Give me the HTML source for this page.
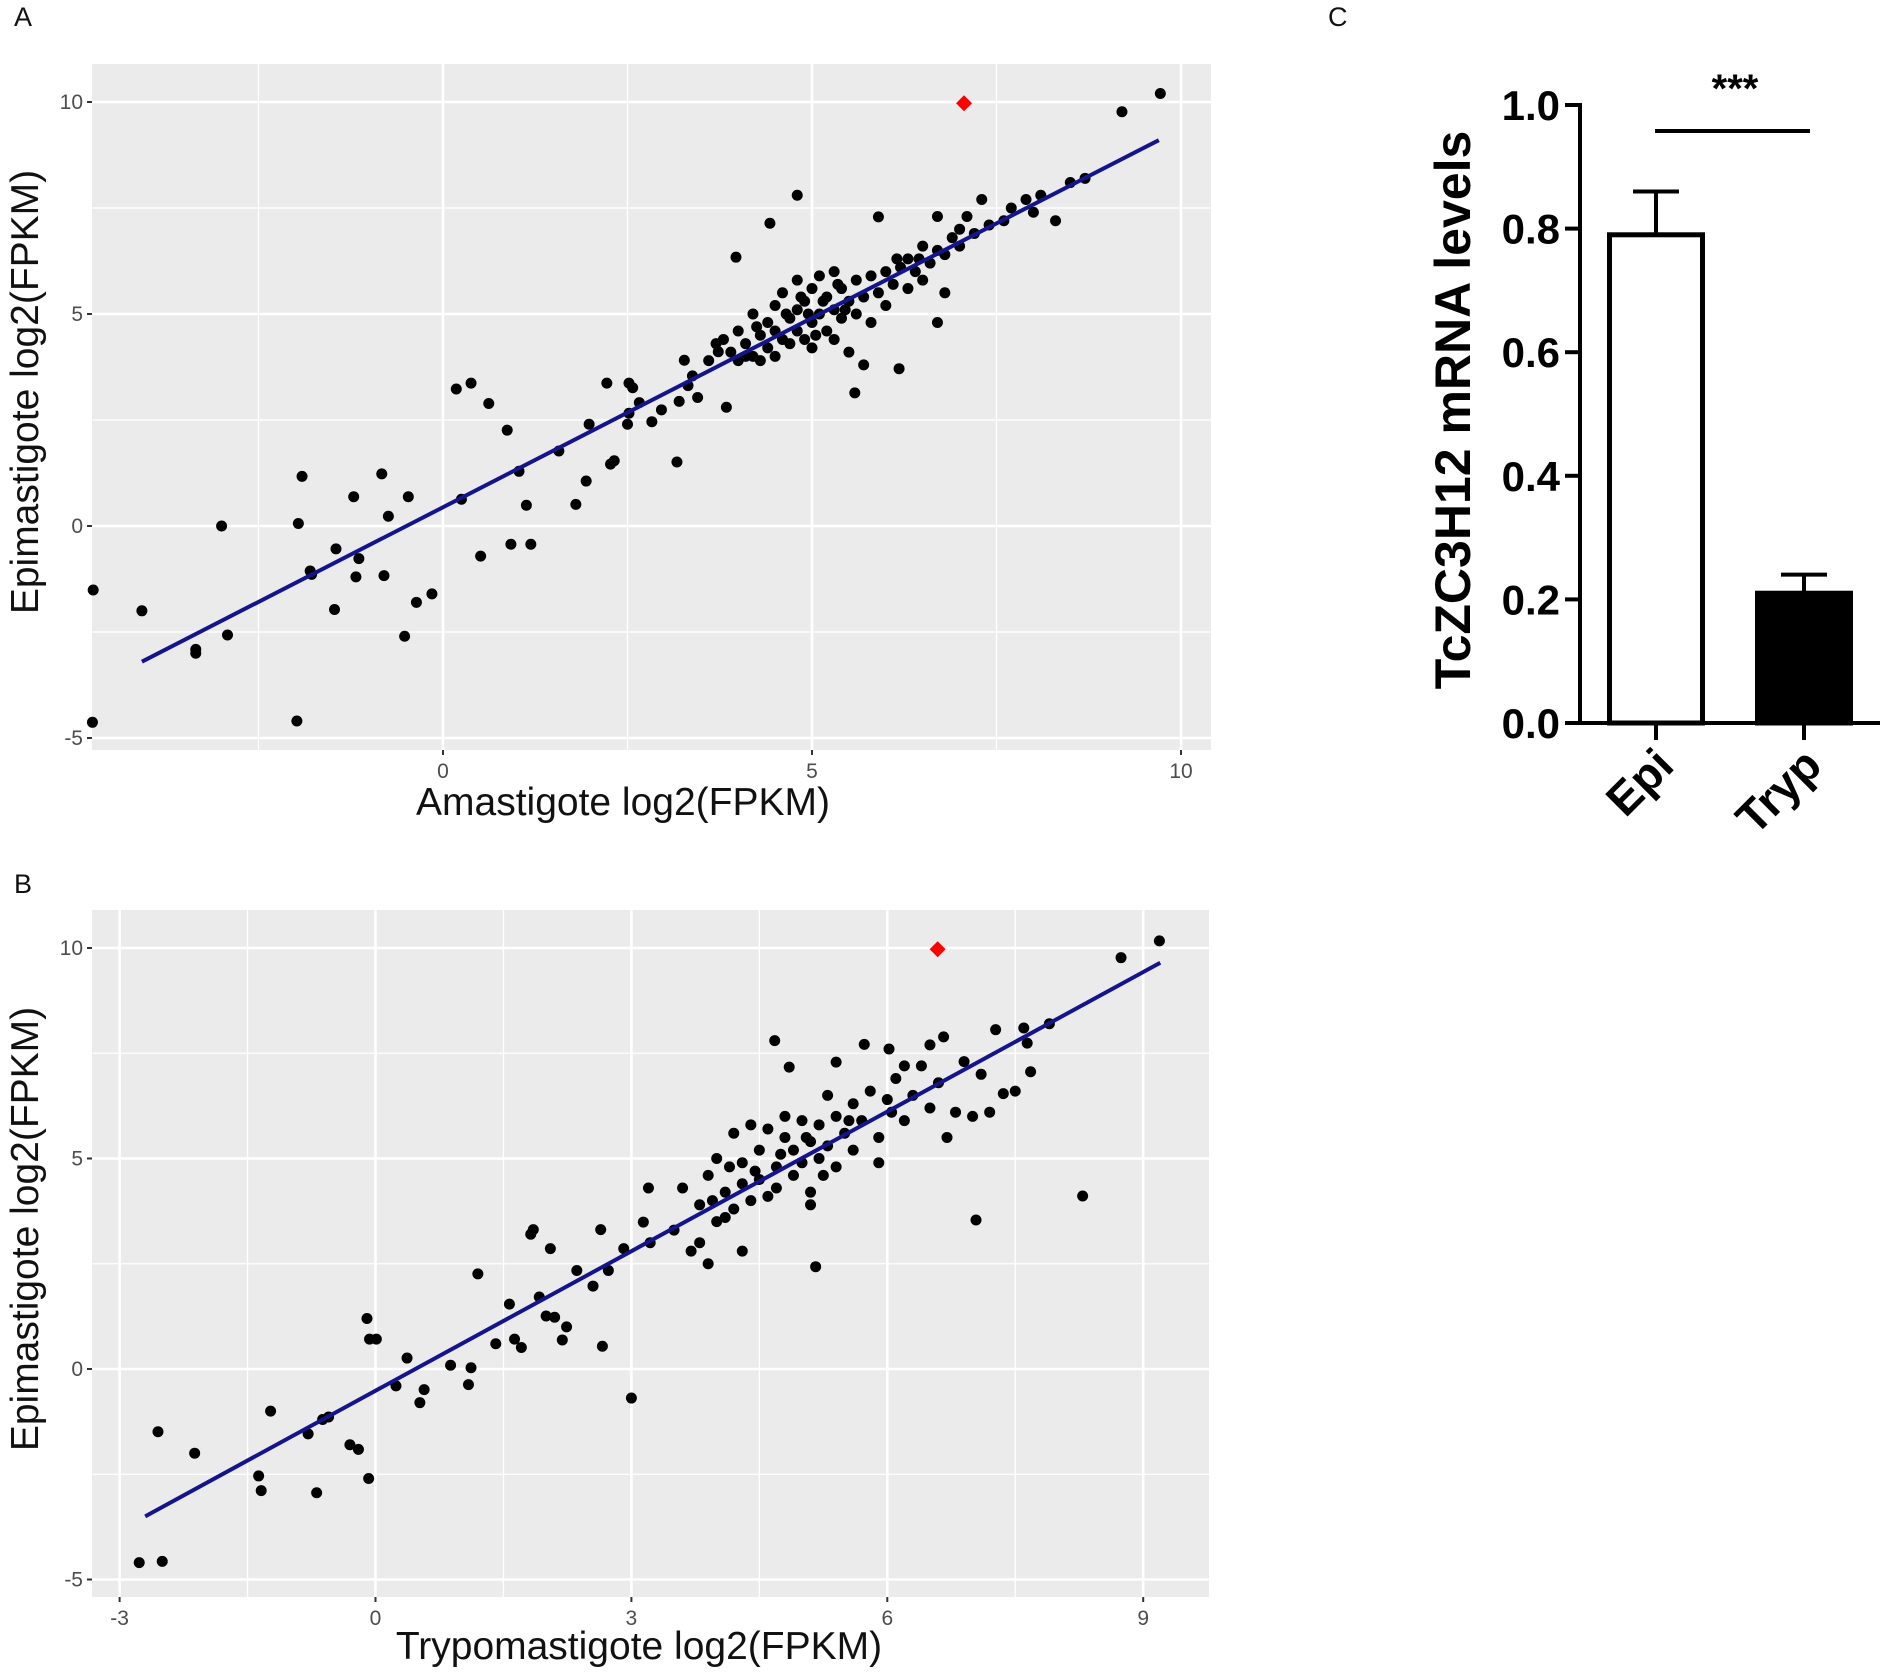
<!DOCTYPE html>
<html><head><meta charset="utf-8"><style>
body{margin:0;background:#fff;}
svg{display:block;font-family:"Liberation Sans",Arial,sans-serif;}
</style></head><body>
<svg id="fig" width="1890" height="1672" viewBox="0 0 1890 1672" xmlns="http://www.w3.org/2000/svg">
<text x="14" y="26" font-size="27" fill="#111">A</text>
<text x="14" y="893" font-size="27" fill="#111">B</text>
<text x="1328" y="26" font-size="27" fill="#111">C</text>
<g id="pa"></g>
<g id="pb"></g>
<g id="pc"></g>
</svg>
<script>
const aPoints=[[-4.74,-1.51],[-4.08,-2.0],[-4.75,-4.63],[-3.0,0],[-3.35,-2.91],[-3.35,-3.0],[-2.92,-2.57],[-1.98,-4.6],[-1.96,0.06],[-1.91,1.17],[-1.8,-1.06],[-1.78,-1.14],[-1.45,-0.54],[-1.47,-1.97],[-1.21,0.69],[-1.14,-0.77],[-1.18,-1.2],[-0.83,1.23],[-0.8,-1.17],[-0.74,0.23],[-0.47,0.69],[-0.52,-2.6],[-0.36,-1.8],[-0.15,-1.6],[0.18,3.23],[0.38,3.37],[0.25,0.63],[0.51,-0.71],[0.62,2.89],[0.87,2.26],[0.92,-0.43],[1.03,1.29],[1.13,0.49],[1.19,-0.43],[1.57,1.77],[1.8,0.51],[1.94,1.06],[1.98,2.4],[2.22,3.37],[2.27,1.46],[2.32,1.54],[2.5,2.4],[2.52,2.66],[2.52,3.37],[2.57,3.26],[2.66,2.91],[2.83,2.46],[2.96,2.74],[3.17,1.51],[3.2,2.94],[3.27,3.91],[3.32,3.31],[3.38,3.54],[3.45,3.03],[3.73,4.11],[3.84,2.8],[3.97,6.34],[4.43,7.14],[4.8,7.8],[5.9,7.29],[5.58,3.14],[6.18,3.71],[9.2,9.77],[9.72,10.2],
[3.6,3.9],[3.7,4.3],[3.9,4.1],[4.0,3.9],[4.0,4.6],[4.1,4.3],[4.2,4.0],[4.2,5.0],[4.3,4.5],[4.3,3.9],[4.4,4.8],[4.4,4.2],[4.5,4.6],[4.5,5.2],[4.5,4.0],[4.6,4.4],[4.6,5.5],[4.7,4.9],[4.7,4.3],[4.8,5.1],[4.8,4.6],[4.8,5.8],[4.9,4.4],[4.9,5.3],[5.0,4.8],[5.0,5.6],[5.0,4.2],[5.1,5.0],[5.1,5.9],[5.2,4.6],[5.2,5.4],[5.3,5.1],[5.3,4.4],[5.3,6.0],[5.4,5.6],[5.4,4.9],[5.5,5.3],[5.5,4.1],[5.6,5.8],[5.6,5.0],[5.7,3.8],[5.7,5.4],[5.8,5.9],[5.8,4.8],[5.9,5.5],[6.0,6.0],[6.0,5.2],[6.1,5.7],[6.2,6.1],[6.3,5.6],[6.3,6.3],[6.4,6.0],[6.5,6.6],[6.5,5.8],[6.6,6.2],[6.7,6.5],[6.7,4.8],[6.7,7.3],[6.8,6.4],[6.8,5.5],[6.9,6.8],[7.0,6.6],[7.0,7.0],[7.1,7.3],[7.2,6.9],[7.3,7.7],[7.4,7.1],[7.6,7.2],[7.7,7.5],[7.9,7.7],[8.0,7.4],[8.1,7.8],[8.3,7.2],[8.5,8.1],[8.7,8.2],[4.25,4.7],[4.65,5.0],[4.95,5.0],[5.15,5.3],[5.45,5.1],[5.05,4.5],[4.85,5.4],[5.35,5.7],[6.15,6.3],[6.45,6.3],[3.8,4.4],[4.1,4.0]];
const aHighlight=[[7.06,9.97]];
const aFit=[[-4.08,-3.2],[9.7,9.1]];
const aXTicks=[0,5,10];
const aYTicks=[-5,0,5,10];

const bPoints=[[-2.77,-4.6],[-2.5,-4.57],[-2.55,-1.49],[-2.12,-2.0],[-1.37,-2.54],[-1.34,-2.89],[-1.23,-1.0],[-0.79,-1.54],[-0.69,-2.94],[-0.62,-1.2],[-0.55,-1.14],[-0.3,-1.8],[-0.2,-1.91],[-0.1,1.2],[-0.08,-2.6],[-0.07,0.71],[0.01,0.71],[0.24,-0.4],[0.37,0.26],[0.52,-0.8],[0.57,-0.49],[0.88,0.09],[1.09,-0.37],[1.12,0.03],[1.2,2.26],[1.41,0.6],[1.57,1.54],[1.63,0.71],[1.71,0.51],[1.85,3.31],[1.82,3.2],[1.92,1.71],[2.0,1.26],[2.05,2.86],[2.1,1.23],[2.19,0.69],[2.24,1.0],[2.36,2.34],[2.55,1.97],[2.64,3.31],[2.66,0.54],[2.73,2.34],[2.91,2.86],[3.0,-0.69],[3.14,3.49],[3.22,3.0],[4.85,7.17],[4.68,7.8],[5.4,7.29],[5.73,7.71],[6.02,7.6],[6.66,7.89],[7.04,3.54],[8.29,4.11],[5.16,2.43],[8.74,9.77],[9.19,10.17],[7.64,7.74],[7.68,7.06],[7.27,8.06],[7.36,6.54],
[3.6,4.3],[3.8,3.9],[3.9,2.5],[3.9,4.6],[4.0,3.5],[4.0,5.0],[4.1,4.2],[4.2,3.8],[4.2,5.6],[4.3,4.4],[4.3,4.9],[4.4,4.0],[4.4,5.8],[4.5,4.5],[4.5,5.2],[4.6,4.1],[4.6,5.7],[4.7,4.8],[4.7,4.3],[4.8,5.5],[4.8,6.0],[4.9,4.6],[4.9,5.2],[5.0,5.9],[5.0,4.9],[5.1,5.4],[5.1,4.2],[5.2,5.8],[5.2,5.0],[5.3,6.5],[5.3,5.3],[5.4,4.8],[5.4,6.0],[5.5,5.6],[5.6,6.3],[5.6,5.2],[5.7,5.9],[5.8,6.6],[5.9,5.5],[5.9,4.9],[6.0,6.4],[6.1,6.9],[6.2,5.9],[6.3,6.5],[6.4,7.2],[6.5,6.2],[6.6,6.8],[6.7,5.5],[6.8,6.1],[6.9,7.3],[7.0,6.0],[7.1,7.0],[7.2,6.1],[7.5,6.6],[7.6,8.1],[7.9,8.2],[3.2,4.3],[3.5,3.3],[3.8,3.0],[4.3,2.8],[5.1,3.9],[4.1,3.6],[3.7,2.8],[6.2,7.2],[6.5,7.7],[4.45,4.7],[4.75,5.1],[5.05,5.5],[5.25,4.6],[5.55,5.9],[4.15,4.8],[3.95,4.0],[6.05,6.1]];
const bHighlight=[[6.59,9.97]];
const bFit=[[-2.7,-3.5],[9.2,9.65]];
const bXTicks=[-3,0,3,6,9];
const bYTicks=[-5,0,5,10];

const cCategories=["Epi","Tryp"];
const cValues=[0.79,0.21];
const cErrors=[0.07,0.03];
const cYTicks=[0.0,0.2,0.4,0.6,0.8,1.0];
const cYLabels=["0.0","0.2","0.4","0.6","0.8","1.0"];

const NS="http://www.w3.org/2000/svg";
function mk(parent,tag,attrs){const e=document.createElementNS(NS,tag);for(const k in attrs)e.setAttribute(k,attrs[k]);parent.appendChild(e);return e;}

function scatter(g,cfg,pts,hl,fit,xt,yt){
  const X=v=>cfg.L+(v-cfg.x0)/(cfg.x1-cfg.x0)*(cfg.R-cfg.L);
  const Y=v=>cfg.B-(v-cfg.y0)/(cfg.y1-cfg.y0)*(cfg.B-cfg.T);
  const bg=mk(g,'rect',{x:cfg.L,y:cfg.T,width:cfg.R-cfg.L,height:cfg.B-cfg.T,fill:'#ebebeb'});
  
  
  const xs=xt.slice();const mx=[];for(let i=0;i<xs.length-1;i++)mx.push((xs[i]+xs[i+1])/2);
  mx.push(xs[0]-(xs[1]-xs[0])/2);mx.push(xs[xs.length-1]+(xs[1]-xs[0])/2);
  const my=[];for(let i=0;i<yt.length-1;i++)my.push((yt[i]+yt[i+1])/2);
  mx.forEach(v=>{const p=X(v);if(p>cfg.L&&p<cfg.R){const l=mk(g,'line',{x1:p,x2:p,y1:cfg.T,y2:cfg.B,stroke:'#fff','stroke-width':1.3});}});
  my.forEach(v=>{const p=Y(v);const l=mk(g,'line',{x1:cfg.L,x2:cfg.R,y1:p,y2:p,stroke:'#fff','stroke-width':1.3});});
  xt.forEach(v=>{const p=X(v);
    const l=mk(g,'line',{x1:p,x2:p,y1:cfg.T,y2:cfg.B,stroke:'#fff','stroke-width':2.6});
    mk(g,'line',{x1:p,x2:p,y1:cfg.B,y2:cfg.B+5,stroke:'#333','stroke-width':2});
    const t=mk(g,'text',{x:p,y:cfg.B+28,'font-size':21,fill:'#4d4d4d','text-anchor':'middle'});t.textContent=v;});
  yt.forEach(v=>{const p=Y(v);
    const l=mk(g,'line',{x1:cfg.L,x2:cfg.R,y1:p,y2:p,stroke:'#fff','stroke-width':2.6});
    mk(g,'line',{x1:cfg.L-5,x2:cfg.L,y1:p,y2:p,stroke:'#333','stroke-width':2});
    const t=mk(g,'text',{x:cfg.L-9,y:p+7,'font-size':21,fill:'#4d4d4d','text-anchor':'end'});t.textContent=v;});
  pts.forEach(d=>{const c=mk(g,'circle',{cx:X(d[0]),cy:Y(d[1]),r:5.5,fill:'#000'});});
  const fl=mk(g,'line',{x1:X(fit[0][0]),y1:Y(fit[0][1]),x2:X(fit[1][0]),y2:Y(fit[1][1]),stroke:'#14148c','stroke-width':4});
  
  hl.forEach(d=>{const x=X(d[0]),y=Y(d[1]);const p=mk(g,'polygon',{points:`${x},${y-8} ${x+8},${y} ${x},${y+8} ${x-8},${y}`,fill:'#f00'});});
  const xtitle=mk(g,'text',{x:cfg.xtx,y:cfg.xty,'font-size':39,fill:'#111','text-anchor':'middle'});xtitle.textContent=cfg.xtitle;
  
  const ytitle=mk(g,'text',{x:0,y:0,'font-size':39,fill:'#111','text-anchor':'middle',transform:`translate(${cfg.ytx},${cfg.yty}) rotate(-90)`});ytitle.textContent='Epimastigote log2(FPKM)';
  
}
scatter(document.getElementById('pa'),{L:92,R:1211,T:64,B:750,x0:(92-443)/73.8,x1:(1211-443)/73.8,y0:10-(750-102)/42.4,y1:10+(102-64)/42.4,xtitle:'Amastigote log2(FPKM)',xtx:623,xty:815,ytx:38,yty:392},aPoints,aHighlight,aFit,aXTicks,aYTicks);
scatter(document.getElementById('pb'),{L:92,R:1209,T:910,B:1597,x0:(92-375.5)/85.3,x1:(1209-375.5)/85.3,y0:10-(1597-948)/42.1,y1:10+(948-910)/42.1,xtitle:'Trypomastigote  log2(FPKM)',xtx:639,xty:1659,ytx:38,yty:1229},bPoints,bHighlight,bFit,bXTicks,bYTicks);

(function(){
  const g=document.getElementById('pc');
  const Y=v=>723-v*(723-105);
  const centers=[1656,1804];const bw=98;
  const ax=mk(g,'line',{x1:1580,x2:1580,y1:103,y2:725,stroke:'#000','stroke-width':4});
  const bx=mk(g,'line',{x1:1578,x2:1880,y1:723,y2:723,stroke:'#000','stroke-width':4});
  cYTicks.forEach((v,i)=>{const p=Y(v);mk(g,'line',{x1:1565,x2:1580,y1:p,y2:p,stroke:'#000','stroke-width':4});
    const t=mk(g,'text',{x:1560,y:p+15,'font-size':42,'font-weight':'bold',fill:'#000','text-anchor':'end'});t.textContent=cYLabels[i];});
  cCategories.forEach((c,i)=>{const cx=centers[i];
    const e=mk(g,'line',{x1:cx,x2:cx,y1:Y(cValues[i]),y2:Y(cValues[i]+cErrors[i]),stroke:'#000','stroke-width':4});
    mk(g,'line',{x1:cx-23,x2:cx+23,y1:Y(cValues[i]+cErrors[i]),y2:Y(cValues[i]+cErrors[i]),stroke:'#000','stroke-width':4});
    const r=mk(g,'rect',{x:cx-bw/2+2.5,y:Y(cValues[i]),width:bw-5,height:Y(0)-Y(cValues[i]),fill:i==0?'#fff':'#000',stroke:'#000','stroke-width':5});
    
    mk(g,'line',{x1:cx,x2:cx,y1:723,y2:740,stroke:'#000','stroke-width':4});
    const t=mk(g,'text',{x:0,y:0,'font-size':46,'font-weight':'bold',fill:'#000','text-anchor':'end',transform:`translate(${cx+20},${768}) rotate(-45)`});t.textContent=c;
  });
  const s=mk(g,'line',{x1:1655,x2:1810,y1:131,y2:131,stroke:'#000','stroke-width':4});
  const st=mk(g,'text',{x:1735,y:102,'font-size':40,'font-weight':'bold',fill:'#000','text-anchor':'middle'});st.textContent='***';
  const yt=mk(g,'text',{x:0,y:0,'font-size':50,'font-weight':'bold',fill:'#000','text-anchor':'middle',transform:'translate(1470,410) rotate(-90)'});yt.textContent='TcZC3H12 mRNA levels';
  
})();
</script>
</body></html>
